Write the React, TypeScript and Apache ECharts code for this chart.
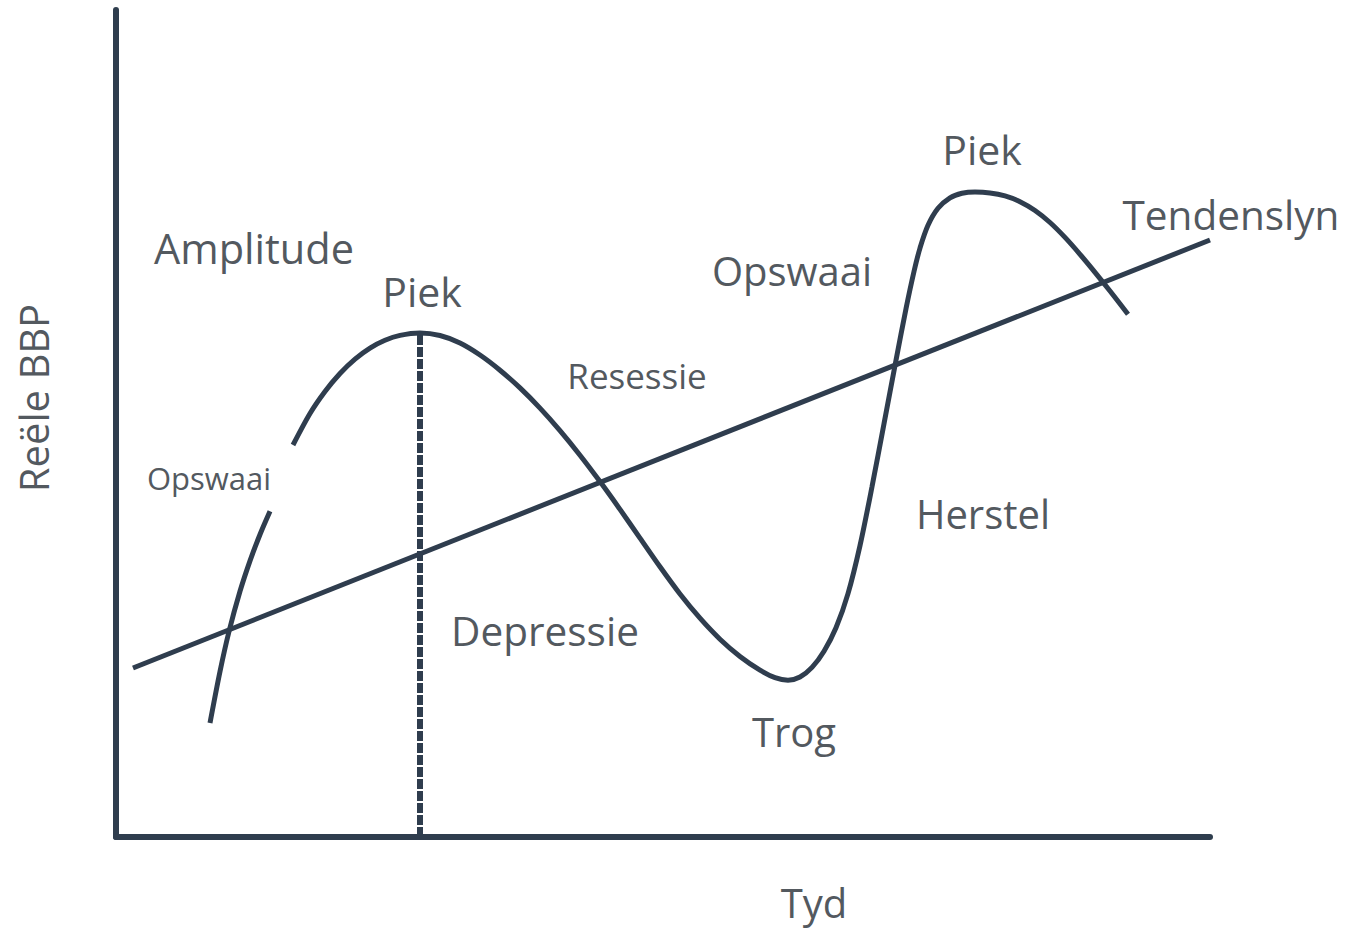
import React, { useEffect, useRef } from "react";
import * as echarts from "echarts";

// Data in arbitrary units: time (x, 0..1094) and real GDP (y, 0..827)
const cycleRise: [number, number][] = [
  [94, 114], [104, 165.5], [113, 205.5], [124, 245.7], [134, 276.2], [144, 302.5], [154, 325.7],
];
const cycleMain: [number, number][] = [
  [177, 392], [194, 423.5], [209, 445.5], [224, 463.5], [239, 477.9], [254, 488.9],
  [269, 496.7], [284, 501.6], [304, 504], [324, 501.5], [344, 494], [364, 482],
  [384, 466.8], [404, 449.1], [424, 428.9], [444, 406.4], [464, 381.8], [484, 355.4],
  [504, 327.6], [524, 298.9], [544, 270.2], [564, 243], [584, 218.8], [604, 197.8],
  [624, 180.5], [644, 166.8], [659, 159.3], [672, 156.8], [684, 160], [696, 169.6],
  [708, 185.8], [720, 209.2], [732, 243.4], [744, 291.4], [756, 350.2], [768, 413.2],
  [780, 476.8], [790, 528.3], [798, 565.5], [804, 588.9], [812, 611.7], [822, 628.7],
  [834, 639.2], [846, 643.7], [859, 645], [874, 644.1], [889, 641.1], [904, 635.3],
  [919, 626.5], [934, 614.5], [949, 599.6], [964, 582.7], [979, 564.7], [994, 546],
  [1012, 522.8],
];
const trendLine: [number, number][] = [[17, 169], [1094, 597]];
const amplitudeLine: [number, number][] = [[304, 0], [304, 504]];

const labels = [
  { text: "Amplitude", x: 254, y: 248, size: 41.5 },
  { text: "Piek", x: 422, y: 291, size: 41 },
  { text: "Opswaai", x: 209, y: 478, size: 31 },
  { text: "Resessie", x: 637, y: 375, size: 35 },
  { text: "Opswaai", x: 792, y: 270, size: 40 },
  { text: "Piek", x: 982, y: 149, size: 41 },
  { text: "Tendenslyn", x: 1231, y: 214, size: 40.5 },
  { text: "Herstel", x: 983, y: 513, size: 40 },
  { text: "Depressie", x: 545, y: 630, size: 40.5 },
  { text: "Trog", x: 794, y: 731, size: 40 },
  { text: "Tyd", x: 814, y: 902, size: 40 },
];
const yAxisTitle = "Reële BBP";

const LINE = "#2f3d4e";
const TEXT = "#53595f";
const FONT = "'Open Sans', sans-serif";

export default function App() {
  const ref = useRef<HTMLDivElement>(null);
  useEffect(() => {
    if (!ref.current) return;
    const chart = echarts.init(ref.current, undefined, { renderer: "svg" });
    const axisCommon = {
      type: "value" as const,
      axisLine: { show: true, onZero: false, lineStyle: { color: LINE, width: 6 } },
      axisTick: { show: false },
      axisLabel: { show: false },
      splitLine: { show: false },
    };
    const curveStyle = { color: LINE, width: 5 };
    chart.setOption({
      animation: false,
      backgroundColor: "#ffffff",
      grid: { left: 116, right: 150, top: 10, bottom: 91 },
      xAxis: { ...axisCommon, min: 0, max: 1094 },
      yAxis: { ...axisCommon, min: 0, max: 827 },
      series: [
        {
          type: "line",
          data: trendLine,
          symbol: "none",
          lineStyle: curveStyle,
        },
        {
          type: "line",
          data: amplitudeLine,
          symbol: "none",
          lineStyle: { color: LINE, width: 6, type: [10, 2] },
        },
        {
          type: "line",
          data: cycleRise,
          symbol: "none",
          smooth: 0.3,
          lineStyle: curveStyle,
        },
        {
          type: "line",
          data: cycleMain,
          symbol: "none",
          smooth: 0.3,
          lineStyle: curveStyle,
        },
      ],
      graphic: [
        ...labels.map((l) => ({
          type: "text",
          x: l.x,
          y: l.y,
          style: {
            text: l.text,
            fontSize: l.size,
            fontFamily: FONT,
            fill: TEXT,
            textAlign: "center",
            textVerticalAlign: "middle",
          },
        })),
        {
          type: "text",
          x: 33,
          y: 398,
          rotation: Math.PI / 2,
          style: {
            text: yAxisTitle,
            fontSize: 40,
            fontFamily: FONT,
            fill: TEXT,
            textAlign: "center",
            textVerticalAlign: "middle",
          },
        },
      ],
    });
    return () => chart.dispose();
  }, []);
  return (
    <div
      ref={ref}
      style={{ position: "fixed", left: 0, top: 0, width: 1360, height: 928 }}
    />
  );
}
